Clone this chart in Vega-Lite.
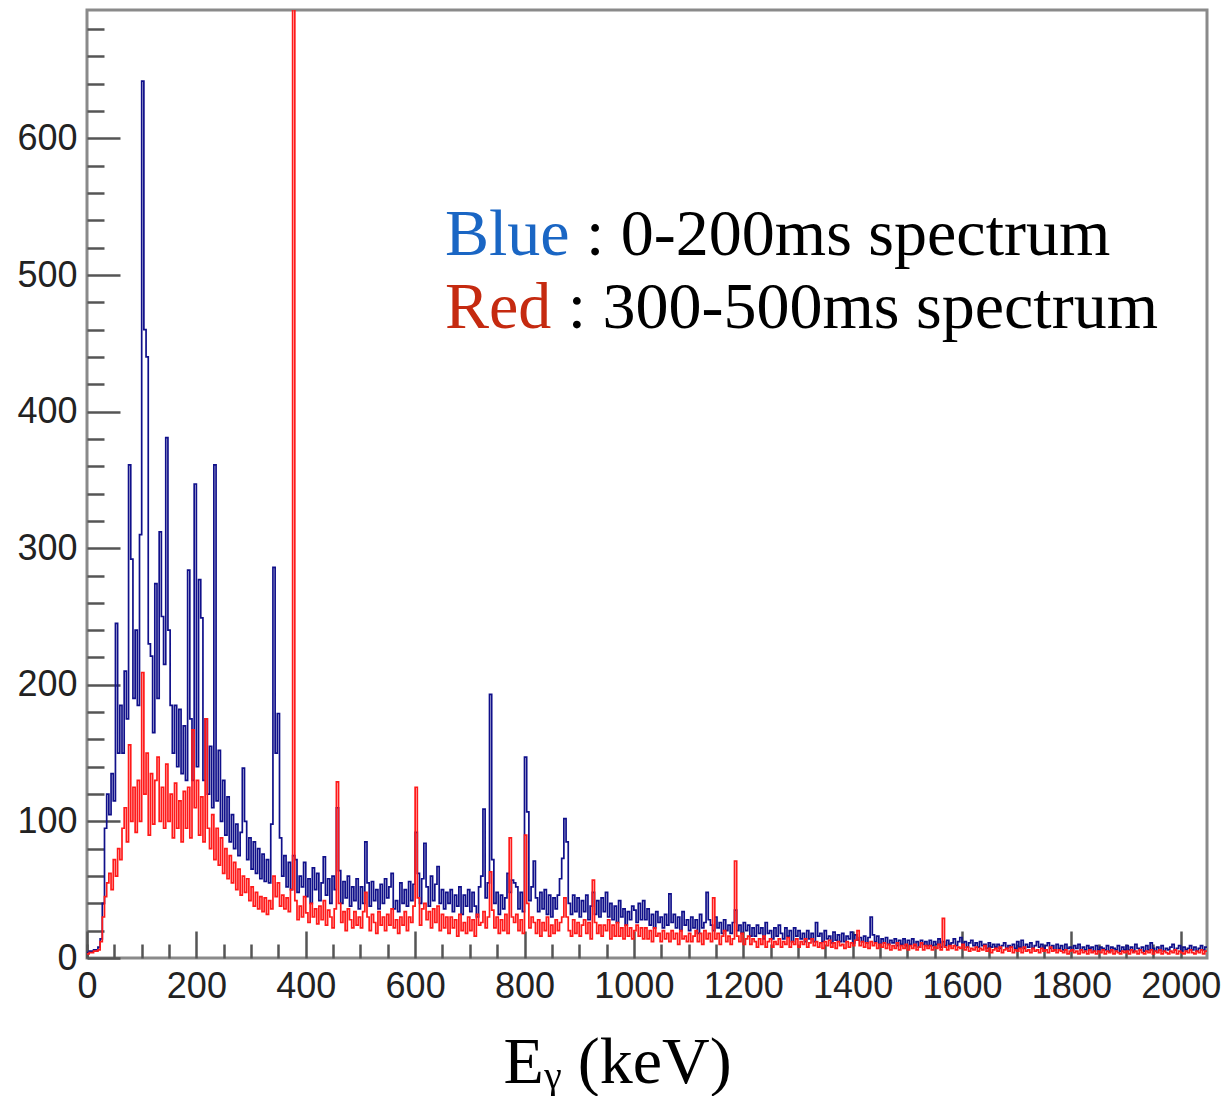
{
  "$schema": "https://vega.github.io/schema/vega-lite/v6.json",
  "width": 1120,
  "height": 948,
  "autosize": {"type": "none"},
  "padding": {"left": 87, "top": 10, "right": 21, "bottom": 138},
  "background": "white",
  "config": {
    "view": {"stroke": "#8a8a8a", "strokeWidth": 3},
    "axis": {"grid": false, "domain": false, "tickColor": "#555555", "tickWidth": 2.5, "labelFont": "Liberation Sans", "labelFontSize": 36, "labelColor": "#222222", "labelFlush": false, "labelOverlap": false}
  },
  "datasets": {
    "spectrum": [
      {"e":0,"b":4,"r":3},{"e":4,"b":5,"r":4},{"e":8,"b":5,"r":4},{"e":12,"b":6,"r":5},{"e":16,"b":6,"r":5},
      {"e":20,"b":8,"r":6},{"e":24,"b":14,"r":12},{"e":28,"b":40,"r":30},{"e":32,"b":95,"r":45},{"e":36,"b":120,"r":55},
      {"e":40,"b":105,"r":62},{"e":44,"b":135,"r":50},{"e":48,"b":115,"r":72},{"e":52,"b":245,"r":60},{"e":56,"b":150,"r":80},
      {"e":60,"b":185,"r":72},{"e":64,"b":150,"r":95},{"e":68,"b":210,"r":110},{"e":72,"b":175,"r":85},{"e":76,"b":361,"r":156},
      {"e":80,"b":292,"r":100},{"e":84,"b":190,"r":125},{"e":88,"b":240,"r":92},{"e":92,"b":185,"r":130},{"e":96,"b":310,"r":100},
      {"e":100,"b":642,"r":209},{"e":104,"b":460,"r":120},{"e":108,"b":440,"r":150},{"e":112,"b":230,"r":90},{"e":116,"b":221,"r":135},
      {"e":120,"b":165,"r":98},{"e":124,"b":274,"r":130},{"e":128,"b":190,"r":147},{"e":132,"b":312,"r":100},{"e":136,"b":250,"r":125},
      {"e":140,"b":215,"r":95},{"e":144,"b":381,"r":142},{"e":148,"b":240,"r":100},{"e":152,"b":185,"r":120},{"e":156,"b":150,"r":88},
      {"e":160,"b":185,"r":128},{"e":164,"b":140,"r":95},{"e":168,"b":182,"r":115},{"e":172,"b":135,"r":85},{"e":176,"b":170,"r":122},
      {"e":180,"b":130,"r":95},{"e":184,"b":284,"r":125},{"e":188,"b":175,"r":88},{"e":192,"b":130,"r":167},{"e":196,"b":347,"r":110},
      {"e":200,"b":140,"r":130},{"e":204,"b":277,"r":90},{"e":208,"b":249,"r":118},{"e":212,"b":130,"r":85},{"e":216,"b":175,"r":175},
      {"e":220,"b":120,"r":95},{"e":224,"b":155,"r":80},{"e":228,"b":110,"r":105},{"e":232,"b":361,"r":72},{"e":236,"b":115,"r":95},
      {"e":240,"b":152,"r":68},{"e":244,"b":100,"r":88},{"e":248,"b":130,"r":62},{"e":252,"b":90,"r":80},{"e":256,"b":118,"r":58},
      {"e":260,"b":85,"r":75},{"e":264,"b":105,"r":55},{"e":268,"b":80,"r":70},{"e":272,"b":98,"r":50},{"e":276,"b":75,"r":65},
      {"e":280,"b":92,"r":46},{"e":284,"b":139,"r":60},{"e":288,"b":100,"r":48},{"e":292,"b":72,"r":58},{"e":296,"b":88,"r":42},
      {"e":300,"b":65,"r":52},{"e":304,"b":85,"r":38},{"e":308,"b":62,"r":48},{"e":312,"b":80,"r":36},{"e":316,"b":58,"r":45},
      {"e":320,"b":76,"r":34},{"e":324,"b":56,"r":44},{"e":328,"b":72,"r":32},{"e":332,"b":55,"r":42},{"e":336,"b":98,"r":36},
      {"e":340,"b":286,"r":60},{"e":344,"b":150,"r":45},{"e":348,"b":179,"r":55},{"e":352,"b":88,"r":38},{"e":356,"b":60,"r":46},
      {"e":360,"b":75,"r":36},{"e":364,"b":52,"r":44},{"e":368,"b":70,"r":34},{"e":372,"b":50,"r":50},{"e":376,"b":75,"r":1000},
      {"e":380,"b":72,"r":42},{"e":384,"b":48,"r":28},{"e":388,"b":60,"r":38},{"e":392,"b":52,"r":30},{"e":396,"b":70,"r":45},
      {"e":400,"b":45,"r":33},{"e":404,"b":58,"r":26},{"e":408,"b":40,"r":40},{"e":412,"b":66,"r":30},{"e":416,"b":50,"r":36},
      {"e":420,"b":62,"r":25},{"e":424,"b":42,"r":38},{"e":428,"b":55,"r":28},{"e":432,"b":74,"r":42},{"e":436,"b":46,"r":24},
      {"e":440,"b":58,"r":35},{"e":444,"b":40,"r":30},{"e":448,"b":60,"r":22},{"e":452,"b":50,"r":36},{"e":456,"b":110,"r":129},
      {"e":460,"b":64,"r":40},{"e":464,"b":40,"r":26},{"e":468,"b":56,"r":34},{"e":472,"b":44,"r":20},{"e":476,"b":60,"r":36},
      {"e":480,"b":38,"r":28},{"e":484,"b":52,"r":22},{"e":488,"b":42,"r":34},{"e":492,"b":58,"r":24},{"e":496,"b":36,"r":30},
      {"e":500,"b":52,"r":22},{"e":504,"b":40,"r":34},{"e":508,"b":85,"r":48},{"e":512,"b":55,"r":30},{"e":516,"b":38,"r":20},
      {"e":520,"b":56,"r":32},{"e":524,"b":42,"r":26},{"e":528,"b":50,"r":18},{"e":532,"b":36,"r":34},{"e":536,"b":54,"r":24},
      {"e":540,"b":40,"r":30},{"e":544,"b":58,"r":20},{"e":548,"b":44,"r":32},{"e":552,"b":52,"r":24},{"e":556,"b":62,"r":36},
      {"e":560,"b":36,"r":22},{"e":564,"b":42,"r":28},{"e":568,"b":34,"r":18},{"e":572,"b":55,"r":30},{"e":576,"b":40,"r":24},
      {"e":580,"b":50,"r":34},{"e":584,"b":38,"r":20},{"e":588,"b":56,"r":30},{"e":592,"b":42,"r":26},{"e":596,"b":54,"r":38},
      {"e":600,"b":92,"r":125},{"e":604,"b":62,"r":44},{"e":608,"b":40,"r":24},{"e":612,"b":58,"r":36},{"e":616,"b":84,"r":40},
      {"e":620,"b":52,"r":28},{"e":624,"b":38,"r":34},{"e":628,"b":60,"r":22},{"e":632,"b":42,"r":36},{"e":636,"b":54,"r":26},
      {"e":640,"b":67,"r":38},{"e":644,"b":40,"r":20},{"e":648,"b":50,"r":32},{"e":652,"b":36,"r":22},{"e":656,"b":48,"r":30},
      {"e":660,"b":40,"r":18},{"e":664,"b":50,"r":30},{"e":668,"b":34,"r":22},{"e":672,"b":46,"r":28},{"e":676,"b":38,"r":16},
      {"e":680,"b":52,"r":32},{"e":684,"b":32,"r":20},{"e":688,"b":46,"r":26},{"e":692,"b":38,"r":18},{"e":696,"b":50,"r":30},
      {"e":700,"b":34,"r":20},{"e":704,"b":48,"r":28},{"e":708,"b":38,"r":16},{"e":712,"b":30,"r":32},{"e":716,"b":52,"r":24},
      {"e":720,"b":60,"r":26},{"e":724,"b":109,"r":34},{"e":728,"b":44,"r":22},{"e":732,"b":55,"r":30},{"e":736,"b":193,"r":63},
      {"e":740,"b":72,"r":35},{"e":744,"b":40,"r":22},{"e":748,"b":48,"r":30},{"e":752,"b":32,"r":18},{"e":756,"b":46,"r":28},
      {"e":760,"b":36,"r":20},{"e":764,"b":44,"r":32},{"e":768,"b":62,"r":18},{"e":772,"b":48,"r":88},{"e":776,"b":57,"r":30},
      {"e":780,"b":55,"r":26},{"e":784,"b":52,"r":32},{"e":788,"b":36,"r":20},{"e":792,"b":48,"r":28},{"e":796,"b":34,"r":18},
      {"e":800,"b":147,"r":90},{"e":804,"b":107,"r":40},{"e":808,"b":42,"r":22},{"e":812,"b":52,"r":30},{"e":816,"b":71,"r":26},
      {"e":820,"b":44,"r":18},{"e":824,"b":34,"r":28},{"e":828,"b":48,"r":16},{"e":832,"b":36,"r":26},{"e":836,"b":50,"r":20},
      {"e":840,"b":32,"r":30},{"e":844,"b":46,"r":16},{"e":848,"b":30,"r":24},{"e":852,"b":44,"r":18},{"e":856,"b":36,"r":28},
      {"e":860,"b":46,"r":20},{"e":864,"b":58,"r":26},{"e":868,"b":73,"r":30},{"e":872,"b":102,"r":44},{"e":876,"b":85,"r":30},
      {"e":880,"b":40,"r":20},{"e":884,"b":32,"r":16},{"e":888,"b":46,"r":28},{"e":892,"b":34,"r":18},{"e":896,"b":44,"r":26},
      {"e":900,"b":30,"r":16},{"e":904,"b":42,"r":24},{"e":908,"b":34,"r":28},{"e":912,"b":46,"r":18},{"e":916,"b":28,"r":26},
      {"e":920,"b":38,"r":14},{"e":924,"b":48,"r":57},{"e":928,"b":32,"r":26},{"e":932,"b":42,"r":18},{"e":936,"b":30,"r":24},
      {"e":940,"b":44,"r":16},{"e":944,"b":34,"r":24},{"e":948,"b":48,"r":20},{"e":952,"b":30,"r":28},{"e":956,"b":40,"r":14},
      {"e":960,"b":28,"r":24},{"e":964,"b":38,"r":16},{"e":968,"b":26,"r":26},{"e":972,"b":42,"r":16},{"e":976,"b":30,"r":22},
      {"e":980,"b":36,"r":14},{"e":984,"b":24,"r":24},{"e":988,"b":34,"r":16},{"e":992,"b":28,"r":22},{"e":996,"b":38,"r":14},
      {"e":1000,"b":35,"r":20},{"e":1004,"b":26,"r":24},{"e":1008,"b":40,"r":16},{"e":1012,"b":28,"r":22},{"e":1016,"b":42,"r":14},
      {"e":1020,"b":28,"r":22},{"e":1024,"b":36,"r":14},{"e":1028,"b":24,"r":20},{"e":1032,"b":32,"r":12},{"e":1036,"b":22,"r":22},
      {"e":1040,"b":34,"r":16},{"e":1044,"b":26,"r":18},{"e":1048,"b":30,"r":12},{"e":1052,"b":22,"r":20},{"e":1056,"b":32,"r":14},
      {"e":1060,"b":24,"r":18},{"e":1064,"b":47,"r":12},{"e":1068,"b":26,"r":20},{"e":1072,"b":32,"r":14},{"e":1076,"b":22,"r":18},
      {"e":1080,"b":30,"r":10},{"e":1084,"b":20,"r":20},{"e":1088,"b":34,"r":14},{"e":1092,"b":24,"r":16},{"e":1096,"b":28,"r":12},
      {"e":1100,"b":20,"r":18},{"e":1104,"b":30,"r":12},{"e":1108,"b":22,"r":16},{"e":1112,"b":28,"r":20},{"e":1116,"b":18,"r":12},
      {"e":1120,"b":32,"r":18},{"e":1124,"b":22,"r":10},{"e":1128,"b":26,"r":20},{"e":1132,"b":48,"r":14},{"e":1136,"b":28,"r":18},
      {"e":1140,"b":24,"r":12},{"e":1144,"b":20,"r":44},{"e":1148,"b":30,"r":14},{"e":1152,"b":22,"r":18},{"e":1156,"b":26,"r":10},
      {"e":1160,"b":18,"r":16},{"e":1164,"b":28,"r":20},{"e":1168,"b":20,"r":12},{"e":1172,"b":24,"r":16},{"e":1176,"b":18,"r":10},
      {"e":1180,"b":26,"r":14},{"e":1184,"b":35,"r":71},{"e":1188,"b":20,"r":16},{"e":1192,"b":24,"r":12},{"e":1196,"b":18,"r":18},
      {"e":1200,"b":26,"r":10},{"e":1204,"b":20,"r":14},{"e":1208,"b":24,"r":16},{"e":1212,"b":16,"r":10},{"e":1216,"b":22,"r":14},
      {"e":1220,"b":16,"r":12},{"e":1224,"b":24,"r":8},{"e":1228,"b":18,"r":14},{"e":1232,"b":22,"r":10},{"e":1236,"b":14,"r":16},
      {"e":1240,"b":26,"r":8},{"e":1244,"b":18,"r":12},{"e":1248,"b":20,"r":14},{"e":1252,"b":14,"r":8},{"e":1256,"b":22,"r":12},
      {"e":1260,"b":16,"r":10},{"e":1264,"b":24,"r":14},{"e":1268,"b":18,"r":8},{"e":1272,"b":14,"r":12},{"e":1276,"b":22,"r":10},
      {"e":1280,"b":16,"r":15},{"e":1284,"b":20,"r":8},{"e":1288,"b":12,"r":12},{"e":1292,"b":22,"r":10},{"e":1296,"b":16,"r":14},
      {"e":1300,"b":20,"r":8},{"e":1304,"b":14,"r":12},{"e":1308,"b":18,"r":10},{"e":1312,"b":12,"r":14},{"e":1316,"b":20,"r":8},
      {"e":1320,"b":14,"r":11},{"e":1324,"b":18,"r":14},{"e":1328,"b":12,"r":9},{"e":1332,"b":26,"r":12},{"e":1336,"b":16,"r":8},
      {"e":1340,"b":18,"r":11},{"e":1344,"b":12,"r":7},{"e":1348,"b":20,"r":12},{"e":1352,"b":14,"r":9},{"e":1356,"b":16,"r":13},
      {"e":1360,"b":11,"r":8},{"e":1364,"b":19,"r":11},{"e":1368,"b":13,"r":7},{"e":1372,"b":17,"r":12},{"e":1376,"b":12,"r":9},
      {"e":1380,"b":18,"r":10},{"e":1384,"b":12,"r":7},{"e":1388,"b":16,"r":12},{"e":1392,"b":14,"r":8},{"e":1396,"b":19,"r":11},
      {"e":1400,"b":11,"r":9},{"e":1404,"b":17,"r":13},{"e":1408,"b":13,"r":20},{"e":1412,"b":15,"r":9},{"e":1416,"b":12,"r":12},
      {"e":1420,"b":16,"r":8},{"e":1424,"b":11,"r":11},{"e":1428,"b":15,"r":7},{"e":1432,"b":30,"r":12},{"e":1436,"b":17,"r":9},
      {"e":1440,"b":12,"r":11},{"e":1444,"b":16,"r":7},{"e":1448,"b":10,"r":10},{"e":1452,"b":14,"r":8},{"e":1456,"b":11,"r":11},
      {"e":1460,"b":15,"r":7},{"e":1464,"b":10,"r":10},{"e":1468,"b":13,"r":6},{"e":1472,"b":11,"r":9},{"e":1476,"b":14,"r":7},
      {"e":1480,"b":9,"r":11},{"e":1484,"b":13,"r":6},{"e":1488,"b":10,"r":9},{"e":1492,"b":14,"r":7},{"e":1496,"b":9,"r":10},
      {"e":1500,"b":13,"r":6},{"e":1504,"b":10,"r":9},{"e":1508,"b":14,"r":7},{"e":1512,"b":9,"r":10},{"e":1516,"b":12,"r":6},
      {"e":1520,"b":8,"r":8},{"e":1524,"b":13,"r":11},{"e":1528,"b":10,"r":6},{"e":1532,"b":12,"r":9},{"e":1536,"b":9,"r":7},
      {"e":1540,"b":13,"r":9},{"e":1544,"b":9,"r":6},{"e":1548,"b":12,"r":8},{"e":1552,"b":10,"r":7},{"e":1556,"b":14,"r":10},
      {"e":1560,"b":8,"r":6},{"e":1564,"b":12,"r":29},{"e":1568,"b":9,"r":8},{"e":1572,"b":13,"r":6},{"e":1576,"b":10,"r":9},
      {"e":1580,"b":11,"r":7},{"e":1584,"b":14,"r":9},{"e":1588,"b":9,"r":6},{"e":1592,"b":12,"r":8},{"e":1596,"b":15,"r":7},
      {"e":1600,"b":10,"r":10},{"e":1604,"b":12,"r":6},{"e":1608,"b":8,"r":8},{"e":1612,"b":11,"r":5},{"e":1616,"b":13,"r":7},
      {"e":1620,"b":9,"r":6},{"e":1624,"b":11,"r":8},{"e":1628,"b":8,"r":5},{"e":1632,"b":12,"r":7},{"e":1636,"b":9,"r":6},
      {"e":1640,"b":10,"r":9},{"e":1644,"b":7,"r":5},{"e":1648,"b":11,"r":7},{"e":1652,"b":8,"r":4},{"e":1656,"b":10,"r":6},
      {"e":1660,"b":8,"r":7},{"e":1664,"b":10,"r":5},{"e":1668,"b":7,"r":8},{"e":1672,"b":9,"r":4},{"e":1676,"b":11,"r":6},
      {"e":1680,"b":7,"r":7},{"e":1684,"b":9,"r":5},{"e":1688,"b":8,"r":8},{"e":1692,"b":10,"r":4},{"e":1696,"b":7,"r":6},
      {"e":1700,"b":12,"r":5},{"e":1704,"b":8,"r":7},{"e":1708,"b":13,"r":4},{"e":1712,"b":7,"r":8},{"e":1716,"b":10,"r":5},
      {"e":1720,"b":8,"r":6},{"e":1724,"b":11,"r":4},{"e":1728,"b":7,"r":7},{"e":1732,"b":9,"r":5},{"e":1736,"b":12,"r":6},
      {"e":1740,"b":8,"r":4},{"e":1744,"b":10,"r":7},{"e":1748,"b":7,"r":5},{"e":1752,"b":9,"r":6},{"e":1756,"b":11,"r":4},
      {"e":1760,"b":7,"r":8},{"e":1764,"b":9,"r":5},{"e":1768,"b":6,"r":6},{"e":1772,"b":10,"r":4},{"e":1776,"b":7,"r":6},
      {"e":1780,"b":9,"r":5},{"e":1784,"b":6,"r":4},{"e":1788,"b":10,"r":6},{"e":1792,"b":7,"r":3},{"e":1796,"b":8,"r":5},
      {"e":1800,"b":6,"r":6},{"e":1804,"b":9,"r":4},{"e":1808,"b":7,"r":5},{"e":1812,"b":10,"r":3},{"e":1816,"b":6,"r":6},
      {"e":1820,"b":8,"r":4},{"e":1824,"b":6,"r":5},{"e":1828,"b":9,"r":3},{"e":1832,"b":7,"r":6},{"e":1836,"b":8,"r":4},
      {"e":1840,"b":5,"r":5},{"e":1844,"b":9,"r":3},{"e":1848,"b":6,"r":5},{"e":1852,"b":8,"r":4},{"e":1856,"b":7,"r":6},
      {"e":1860,"b":6,"r":3},{"e":1864,"b":9,"r":5},{"e":1868,"b":5,"r":4},{"e":1872,"b":8,"r":6},{"e":1876,"b":7,"r":3},
      {"e":1880,"b":6,"r":5},{"e":1884,"b":9,"r":4},{"e":1888,"b":5,"r":3},{"e":1892,"b":8,"r":5},{"e":1896,"b":6,"r":4},
      {"e":1900,"b":9,"r":5},{"e":1904,"b":6,"r":3},{"e":1908,"b":8,"r":6},{"e":1912,"b":5,"r":4},{"e":1916,"b":10,"r":5},
      {"e":1920,"b":7,"r":3},{"e":1924,"b":6,"r":6},{"e":1928,"b":8,"r":4},{"e":1932,"b":5,"r":3},{"e":1936,"b":9,"r":5},
      {"e":1940,"b":6,"r":4},{"e":1944,"b":11,"r":6},{"e":1948,"b":7,"r":3},{"e":1952,"b":5,"r":5},{"e":1956,"b":8,"r":4},
      {"e":1960,"b":6,"r":6},{"e":1964,"b":9,"r":3},{"e":1968,"b":5,"r":5},{"e":1972,"b":7,"r":4},{"e":1976,"b":6,"r":3},
      {"e":1980,"b":8,"r":5},{"e":1984,"b":10,"r":4},{"e":1988,"b":6,"r":6},{"e":1992,"b":7,"r":3},{"e":1996,"b":9,"r":5},
      {"e":2000,"b":5,"r":4},{"e":2004,"b":8,"r":3},{"e":2008,"b":6,"r":5},{"e":2012,"b":7,"r":4},{"e":2016,"b":9,"r":6},
      {"e":2020,"b":6,"r":4},{"e":2024,"b":8,"r":3},{"e":2028,"b":5,"r":5},{"e":2032,"b":7,"r":4},{"e":2036,"b":9,"r":6},
      {"e":2040,"b":6,"r":3},{"e":2044,"b":8,"r":5},{"e":2048,"b":8,"r":5}
    ]
  },
  "layer": [
    {
      "data": {"name": "spectrum"},
      "mark": {"type": "line", "interpolate": "step-after", "color": "#10108a", "strokeWidth": 1.7, "clip": true},
      "encoding": {
        "x": {"field": "e", "type": "quantitative",
              "scale": {"domain": [0, 2048], "nice": false, "zero": false},
              "axis": {"orient": "bottom", "values": [0,200,400,600,800,1000,1200,1400,1600,1800,2000], "format": "d",
                       "tickSize": -27, "labelPadding": 38, "labelBaseline": "top",
                       "title": "Eᵧ (keV)", "titleFont": "Liberation Serif", "titleFontSize": 66, "titleFontWeight": "normal",
                       "titleColor": "#000000", "titleX": 530, "titleY": 124, "titleAlign": "center", "titleBaseline": "alphabetic"}},
        "y": {"field": "b", "type": "quantitative",
              "scale": {"domain": [0, 694], "nice": false},
              "axis": {"orient": "left", "values": [0,100,200,300,400,500,600], "format": "d",
                       "tickSize": -33, "labelPadding": 43, "title": null}}
      }
    },
    {
      "data": {"name": "spectrum"},
      "mark": {"type": "line", "interpolate": "step-after", "color": "#ff1a1a", "strokeWidth": 1.7, "clip": true},
      "encoding": {
        "x": {"field": "e", "type": "quantitative",
              "axis": {"orient": "bottom", "values": [0,50,100,150,250,300,350,450,500,550,650,700,750,850,900,950,1050,1100,1150,1250,1300,1350,1450,1500,1550,1650,1700,1750,1850,1900,1950,2050],
                       "tickSize": -14, "labels": false, "title": null}},
        "y": {"field": "r", "type": "quantitative",
              "axis": {"orient": "left", "values": [20,40,60,80,120,140,160,180,220,240,260,280,320,340,360,380,420,440,460,480,520,540,560,580,620,640,660,680],
                       "tickSize": -17, "labels": false, "title": null}}
      }
    },
    {
      "data": {"values": [{}]},
      "mark": {"type": "text", "text": "Blue", "font": "Liberation Serif", "fontSize": 66, "align": "left", "baseline": "alphabetic", "color": "#1a66c4"},
      "encoding": {
        "x": {"datum": 654.6, "type": "quantitative", "axis": null},
        "y": {"datum": 515, "type": "quantitative", "axis": null}
      }
    },
    {
      "data": {"values": [{}]},
      "mark": {"type": "text", "text": ": 0-200ms spectrum", "font": "Liberation Serif", "fontSize": 66, "align": "left", "baseline": "alphabetic", "color": "#000000"},
      "encoding": {
        "x": {"datum": 912.5, "type": "quantitative", "axis": null},
        "y": {"datum": 515, "type": "quantitative", "axis": null}
      }
    },
    {
      "data": {"values": [{}]},
      "mark": {"type": "text", "text": "Red", "font": "Liberation Serif", "fontSize": 66, "align": "left", "baseline": "alphabetic", "color": "#c52a10"},
      "encoding": {
        "x": {"datum": 654.6, "type": "quantitative", "axis": null},
        "y": {"datum": 461.5, "type": "quantitative", "axis": null}
      }
    },
    {
      "data": {"values": [{}]},
      "mark": {"type": "text", "text": ": 300-500ms spectrum", "font": "Liberation Serif", "fontSize": 66, "align": "left", "baseline": "alphabetic", "color": "#000000"},
      "encoding": {
        "x": {"datum": 879, "type": "quantitative", "axis": null},
        "y": {"datum": 461.5, "type": "quantitative", "axis": null}
      }
    }
  ],
  "resolve": {"axis": {"x": "independent", "y": "independent"}}
}
